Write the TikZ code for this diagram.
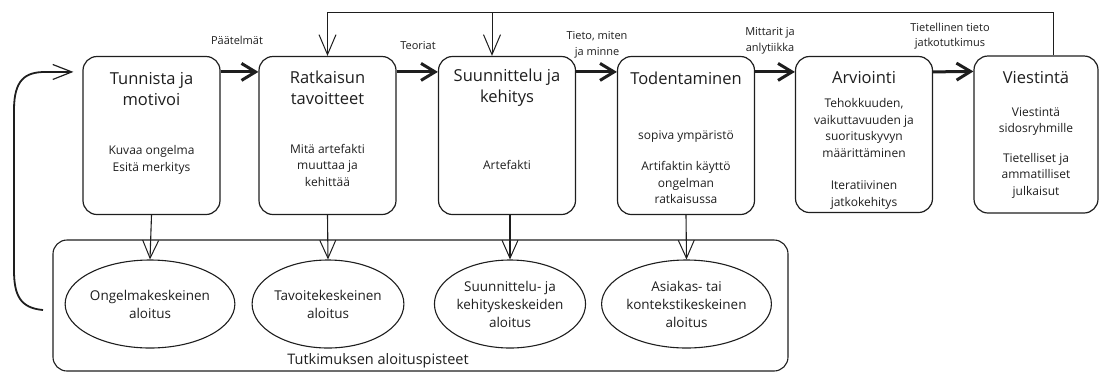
\documentclass[tikz,border=0pt]{standalone}
\usepackage{fontspec}
\setmainfont{Open Sans}
\usepackage{tikz}
\usetikzlibrary{arrows.meta, positioning, shapes.geometric}
\definecolor{ink}{HTML}{1E1E1E}

\begin{document}
\begin{tikzpicture}[x=1pt, y=-1pt,
  stage/.style={draw=ink, line width=1.2pt, rounded corners=14pt,
                minimum width=137pt, minimum height=158pt, inner sep=0pt},
  stagetitle/.style={font=\fontsize{16.5}{21}\selectfont, align=center, text=ink, inner sep=0pt},
  stagetext/.style={font=\fontsize{12}{16.5}\selectfont, align=center, text=ink, inner sep=0pt},
  start/.style={ellipse, draw=ink, line width=1.1pt, minimum width=136pt, minimum height=88pt,
                inner sep=0pt, align=center, font=\fontsize{13.5}{18}\selectfont, text=ink},
  group/.style={draw=ink, line width=1.1pt, rounded corners=14pt, minimum width=735pt,
                minimum height=131pt, inner sep=0pt},
  note/.style={font=\fontsize{11}{15.5}\selectfont, align=center, text=ink, inner sep=0pt},
  flow/.style={-{Straight Barb[length=14pt, width=17pt]}, line width=3pt, ink},
  back/.style={-{Straight Barb[length=20pt, width=17pt, line width=1pt]}, line width=1pt, ink},
  drop/.style={-{Straight Barb[length=18pt, width=16pt, line width=1pt]}, line width=1.1pt, ink}
]
  \useasboundingbox (0,0) rectangle (1100,373);

  % prosessin vaiheet
  \node[stage] (s1) at (151.5,135.5) {};
  \node[stage] (s2) at (327.5,135.5) {};
  \node[stage] (s3) at (507,135.5) {};
  \node[stage] (s4) at (686,135.5) {};
  \node[stage, minimum height=156pt] (s5) at (864,134.5) {};
  \node[stage, minimum width=124pt, minimum height=157pt] (s6) at (1036,134.5) {};

  \node[stagetitle] (t1) at (151.5,89) {Tunnista ja\\motivoi};
  \node[stagetitle] (t2) at (327.5,88) {Ratkaisun\\tavoitteet};
  \node[stagetitle] (t3) at (507,88) {Suunnittelu ja\\kehitys};
  \node[stagetitle] (t4) at (686,78) {Todentaminen};
  \node[stagetitle] (t5) at (864,78) {Arviointi};
  \node[stagetitle] (t6) at (1036,78) {Viestintä};

  \node[stagetext] (b1) at (151.5,160) {Kuvaa ongelma\\Esitä merkitys};
  \node[stagetext] (b2) at (327.5,165) {Mitä artefakti\\muuttaa ja\\kehittää};
  \node[stagetext] (b3) at (507,165) {Artefakti};
  \node[stagetext] (b4) at (686,167) {sopiva ympäristö\\[15pt]Artifaktin käyttö\\ongelman\\ratkaisussa};
  \node[stagetext] (b5) at (864,154) {Tehokkuuden,\\vaikuttavuuden ja\\suorituskyvyn\\määrittäminen\\[16pt]Iteratiivinen\\jatkokehitys};
  \node[stagetext] (b6) at (1036,153) {Viestintä\\sidosryhmille\\[13pt]Tietelliset ja\\ammatilliset\\julkaisut};

  \draw[flow] ([yshift=-16pt]s1.north east) -- ([yshift=-16pt]s2.north west);
  \draw[flow] ([yshift=-16pt]s2.north east) -- ([yshift=-16pt]s3.north west);
  \draw[flow] ([yshift=-16pt]s3.north east) -- ([yshift=-16pt]s4.north west);
  \draw[flow] ([yshift=-16pt]s4.north east) -- ([yshift=-16pt]s5.north west);
  \draw[flow] ([yshift=-16pt]s5.north east) -- ([yshift=-16pt]s6.north west);

  \node[note] (l12) at (237,40) {Päätelmät};
  \node[note] (l23) at (418,46) {Teoriat};
  \node[note] (l34) at (597,45) {Tieto, miten\\ja minne};
  \node[note] (l45) at (770,41) {Mittarit ja\\anlytiikka};
  \node[note] (l56) at (950,36) {Tietellinen tieto\\jatkotutkimus};

  % paluu viestinnästä
  \coordinate (fbtop) at (327.5,12);
  \coordinate (fbmid) at (492,12);
  \draw[back] ([xshift=17pt]s6.north) |- (fbtop) -- (s2.north);
  \draw[back] (fbmid) -- (s3.north -| fbmid);

  % aloituspisteet
  \node[group] (grp) at (420.5,305.5) {};
  \node[start] (e1) at (150,304) {Ongelmakeskeinen\\aloitus};
  \node[start] (e2) at (328,304) {Tavoitekeskeinen\\aloitus};
  \node[start] (e3) at (510,304) {Suunnittelu- ja\\kehityskeskeiden\\aloitus};
  \node[start] (e4) at (686.5,304) {Asiakas- tai\\kontekstikeskeinen\\aloitus};
  \node[font=\fontsize{14.5}{18}\selectfont, text=ink, inner sep=0pt] (grpname) at (378,361) {Tutkimuksen aloituspisteet};

  \draw[drop] (s1.south) -- (e1.north);
  \draw[drop] (s2.south) -- (e2.north);
  \draw[drop] (s3.south -| e3.north) -- (e3.north);
  \draw[drop] (s4.south) -- (e4.north);

  \coordinate (loopend) at (43,310);
  \draw[-{Straight Barb[length=19pt, width=15pt, line width=1.2pt]}, line width=1.8pt, ink]
    (loopend) .. controls (20,308) and (14,295) .. (14,270) -- (14,110)
    .. controls (14,80) and (25,72) .. (45,72) -- ([xshift=-9pt, yshift=-16pt]s1.north west);
\end{tikzpicture}
\end{document}
